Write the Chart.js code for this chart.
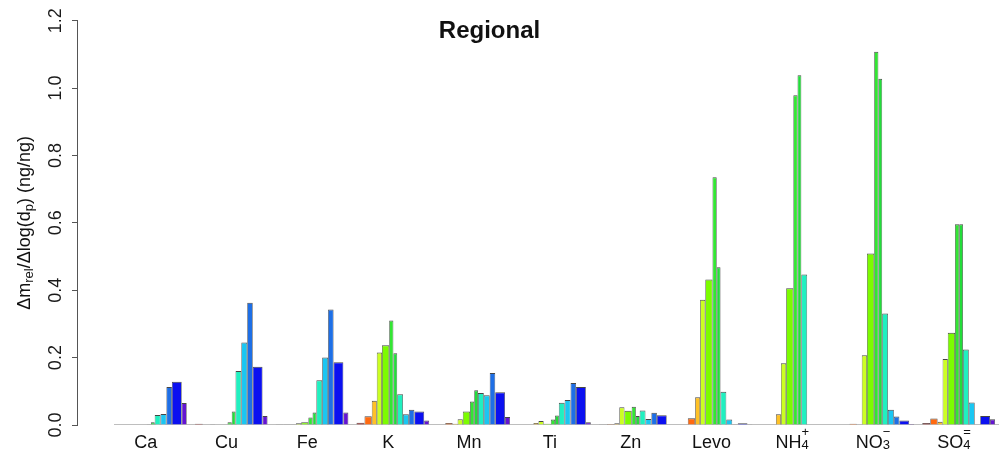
<!DOCTYPE html>
<html>
<head>
<meta charset="utf-8">
<title>Regional</title>
<script src="https://cdn.jsdelivr.net/npm/chart.js@4/dist/chart.umd.min.js"></script>
<style>
  html, body { margin: 0; padding: 0; background: #ffffff; }
  #wrap { width: 999px; height: 456px; }
</style>
</head>
<body>
<div id="wrap"><canvas id="chart" width="999" height="456"></canvas></div>
<script>
// Species on the x axis (digits = subscript, trailing +/-/= = superscript charge)
const categories = ['Ca', 'Cu', 'Fe', 'K', 'Mn', 'Ti', 'Zn', 'Levo', 'NH4+', 'NO3-', 'SO4='];
// y axis tick labels
const yTicks = ['0.0', '0.2', '0.4', '0.6', '0.8', '1.0', '1.2'];
const yTitle = [['\u0394m', ''], ['rel', 'sub'], ['/\u0394log(d', ''], ['p', 'sub'], [') (ng/ng)', '']];
const chartTitle = 'Regional';

// Δm_rel/Δlog(dp) for each impactor stage, smallest to largest particle size
const ca   = [0, 0, 0, 0, 0, 0.002, 0.008, 0.030, 0.033, 0.113, 0.128, 0.065];
const cu   = [0.004, 0, 0.002, 0, 0, 0.008, 0.040, 0.160, 0.245, 0.363, 0.173, 0.027];
const fe   = [0.002, 0.002, 0.002, 0.005, 0.008, 0.022, 0.037, 0.133, 0.200, 0.343, 0.186, 0.037];
const k    = [0.007, 0.026, 0.072, 0.215, 0.237, 0.310, 0.213, 0.091, 0.032, 0.045, 0.040, 0.013];
const mn   = [0, 0.006, 0.004, 0.017, 0.040, 0.070, 0.103, 0.095, 0.088, 0.154, 0.097, 0.024];
const ti   = [0, 0, 0.006, 0.012, 0.004, 0.016, 0.028, 0.066, 0.074, 0.125, 0.113, 0.008];
const zn   = [0.002, 0.003, 0.005, 0.053, 0.042, 0.054, 0.027, 0.043, 0.018, 0.036, 0.029, 0];
const levo = [0, 0.020, 0.082, 0.372, 0.432, 0.735, 0.468, 0.099, 0.016, 0.002, 0.005, 0.002];
const nh4  = [0, 0, 0.032, 0.183, 0.406, 0.979, 1.038, 0.447, 0, 0, 0, 0];
const no3  = [0, 0.004, 0, 0.207, 0.509, 1.108, 1.028, 0.331, 0.045, 0.025, 0.013, 0.003];
const so4  = [0.006, 0.019, 0.010, 0.196, 0.274, 0.596, 0.596, 0.224, 0.067, 0, 0.027, 0.017];

const values = [ca, cu, fe, k, mn, ti, zn, levo, nh4, no3, so4];

// ---- layout: stage bar widths (proportional to Δlog dp) and spacing ----
const binWidths = [8, 7.3, 5, 5.2, 7.2, 4.2, 3.8, 5.8, 5.9, 5.5, 9.8, 5];
const binColors = ['#9A1F1F', '#FF6A10', '#FFC125', '#CCFF22', '#7CFC00', '#33E633',
                   '#22DD3A', '#20F0C0', '#1AC6F2', '#1E6FE6', '#0B10F0', '#6414D2'];
const groupGap = 8.13;
const xMin = -37, xMax = 885;
const labelShift = -5;

const groupWidth = binWidths.reduce((a, b) => a + b, 0);
const groupPeriod = groupWidth + groupGap;
const binCenters = [];
binWidths.reduce((acc, w) => { binCenters.push(acc + w / 2); return acc + w; }, 0);
const groupStart = categories.map((_, g) => g * groupPeriod);
const labelCenter = binCenters.reduce((a, b) => a + b, 0) / binCenters.length + labelShift;

// smallest distance between neighbouring bar centres: Chart.js sizes bars from it
const allCenters = [];
groupStart.forEach(s => binCenters.forEach(c => allCenters.push(s + c)));
allCenters.sort((a, b) => a - b);
let minGap = Infinity;
for (let i = 1; i < allCenters.length; i++) minGap = Math.min(minGap, allCenters[i] - allCenters[i - 1]);

const FONT = '"Liberation Sans", Arial, Helvetica, sans-serif';
const edge = '#454545';

const barSets = binWidths.map((w, b) => ({
  type: 'bar',
  label: 'stage ' + (b + 1),
  data: categories.map((_, g) => ({ x: groupStart[g] + binCenters[b], y: values[g][b] })),
  backgroundColor: binColors[b],
  borderColor: edge,
  borderWidth: { top: 1, left: 0.7, right: 0.7, bottom: 0 },
  borderSkipped: 'start',
  grouped: false,
  categoryPercentage: 1,
  barPercentage: w / minGap,
  inflateAmount: 0,
  order: 0
}));

const baseline = {
  type: 'line',
  label: 'zero',
  data: [{ x: 0, y: 0 }, { x: xMax, y: 0 }],
  borderColor: '#a8a8a8',
  borderWidth: 1.5,
  pointRadius: 0,
  order: 1
};

// Text with sub/superscripts drawn in the canvas
function drawSpecies(ctx, label, cx, base, size) {
  const m = label.match(/^([A-Za-z]+?)(\d*)([+\-=]?)$/);
  const main = m[1], sub = m[2], sup = m[3] === '-' ? '\u2212' : m[3];
  const big = size + 'px ' + FONT;
  const small = Math.round(size * 0.7) + 'px ' + FONT;
  ctx.font = big;
  const wMain = ctx.measureText(main).width;
  ctx.font = small;
  const wSmall = Math.max(sub ? ctx.measureText(sub).width : 0, sup ? ctx.measureText(sup).width : 0);
  let x = cx - (wMain + wSmall) / 2;
  ctx.textAlign = 'left';
  ctx.textBaseline = 'alphabetic';
  ctx.font = big;
  ctx.fillText(main, x, base);
  x += wMain;
  ctx.font = small;
  if (sub) ctx.fillText(sub, x, base + size * 0.1);
  if (sup) ctx.fillText(sup, x, base - size * 0.62);
}

const textPlugin = {
  id: 'chartText',
  afterDraw(chart) {
    const ctx = chart.ctx;
    const xs = chart.scales.x;
    const area = chart.chartArea;
    ctx.save();
    ctx.fillStyle = '#111111';

    // main title
    ctx.font = 'bold 24px ' + FONT;
    ctx.textAlign = 'center';
    ctx.textBaseline = 'alphabetic';
    ctx.fillText(chartTitle, chart.width * 0.49, 38);

    // species names under each group
    categories.forEach((c, g) => {
      drawSpecies(ctx, c, xs.getPixelForValue(groupStart[g] + labelCenter), area.bottom + 22.5, 18);
    });

    // rotated y axis title
    const size = 18;
    const big = size + 'px ' + FONT;
    const small = Math.round(size * 0.7) + 'px ' + FONT;
    let total = 0;
    yTitle.forEach(([t, k]) => { ctx.font = k ? small : big; total += ctx.measureText(t).width; });
    ctx.translate(29.5, (area.top + area.bottom) / 2);
    ctx.rotate(-Math.PI / 2);
    ctx.textAlign = 'left';
    let x = -total / 2;
    yTitle.forEach(([t, k]) => {
      ctx.font = k ? small : big;
      ctx.fillText(t, x, k ? 3 : 0);
      x += ctx.measureText(t).width;
    });
    ctx.restore();
  }
};

new Chart(document.getElementById('chart'), {
  type: 'bar',
  data: { datasets: [...barSets, baseline] },
  options: {
    responsive: false,
    devicePixelRatio: 1,
    animation: false,
    events: [],
    layout: { padding: { top: 20.7, right: 0, bottom: 31, left: 0 } },
    plugins: { legend: { display: false }, tooltip: { enabled: false }, title: { display: false } },
    scales: {
      x: { type: 'linear', min: xMin, max: xMax, offset: false, display: false },
      y: {
        type: 'linear',
        min: 0,
        max: 1.2,
        afterFit(s) { s.width = 77; },
        afterBuildTicks(s) { s.ticks = yTicks.map(t => ({ value: parseFloat(t) })); },
        ticks: {
          callback: (v, i) => yTicks[i],
          font: { family: FONT, size: 18 },
          color: '#1a1a1a',
          minRotation: 90,
          maxRotation: 90,
          crossAlign: 'center',
          padding: 3
        },
        grid: { drawOnChartArea: false, drawTicks: true, tickLength: 5, color: '#555555', lineWidth: 1 },
        border: { display: true, color: '#555555', width: 1 }
      }
    }
  },
  plugins: [textPlugin]
});
</script>
</body>
</html>
